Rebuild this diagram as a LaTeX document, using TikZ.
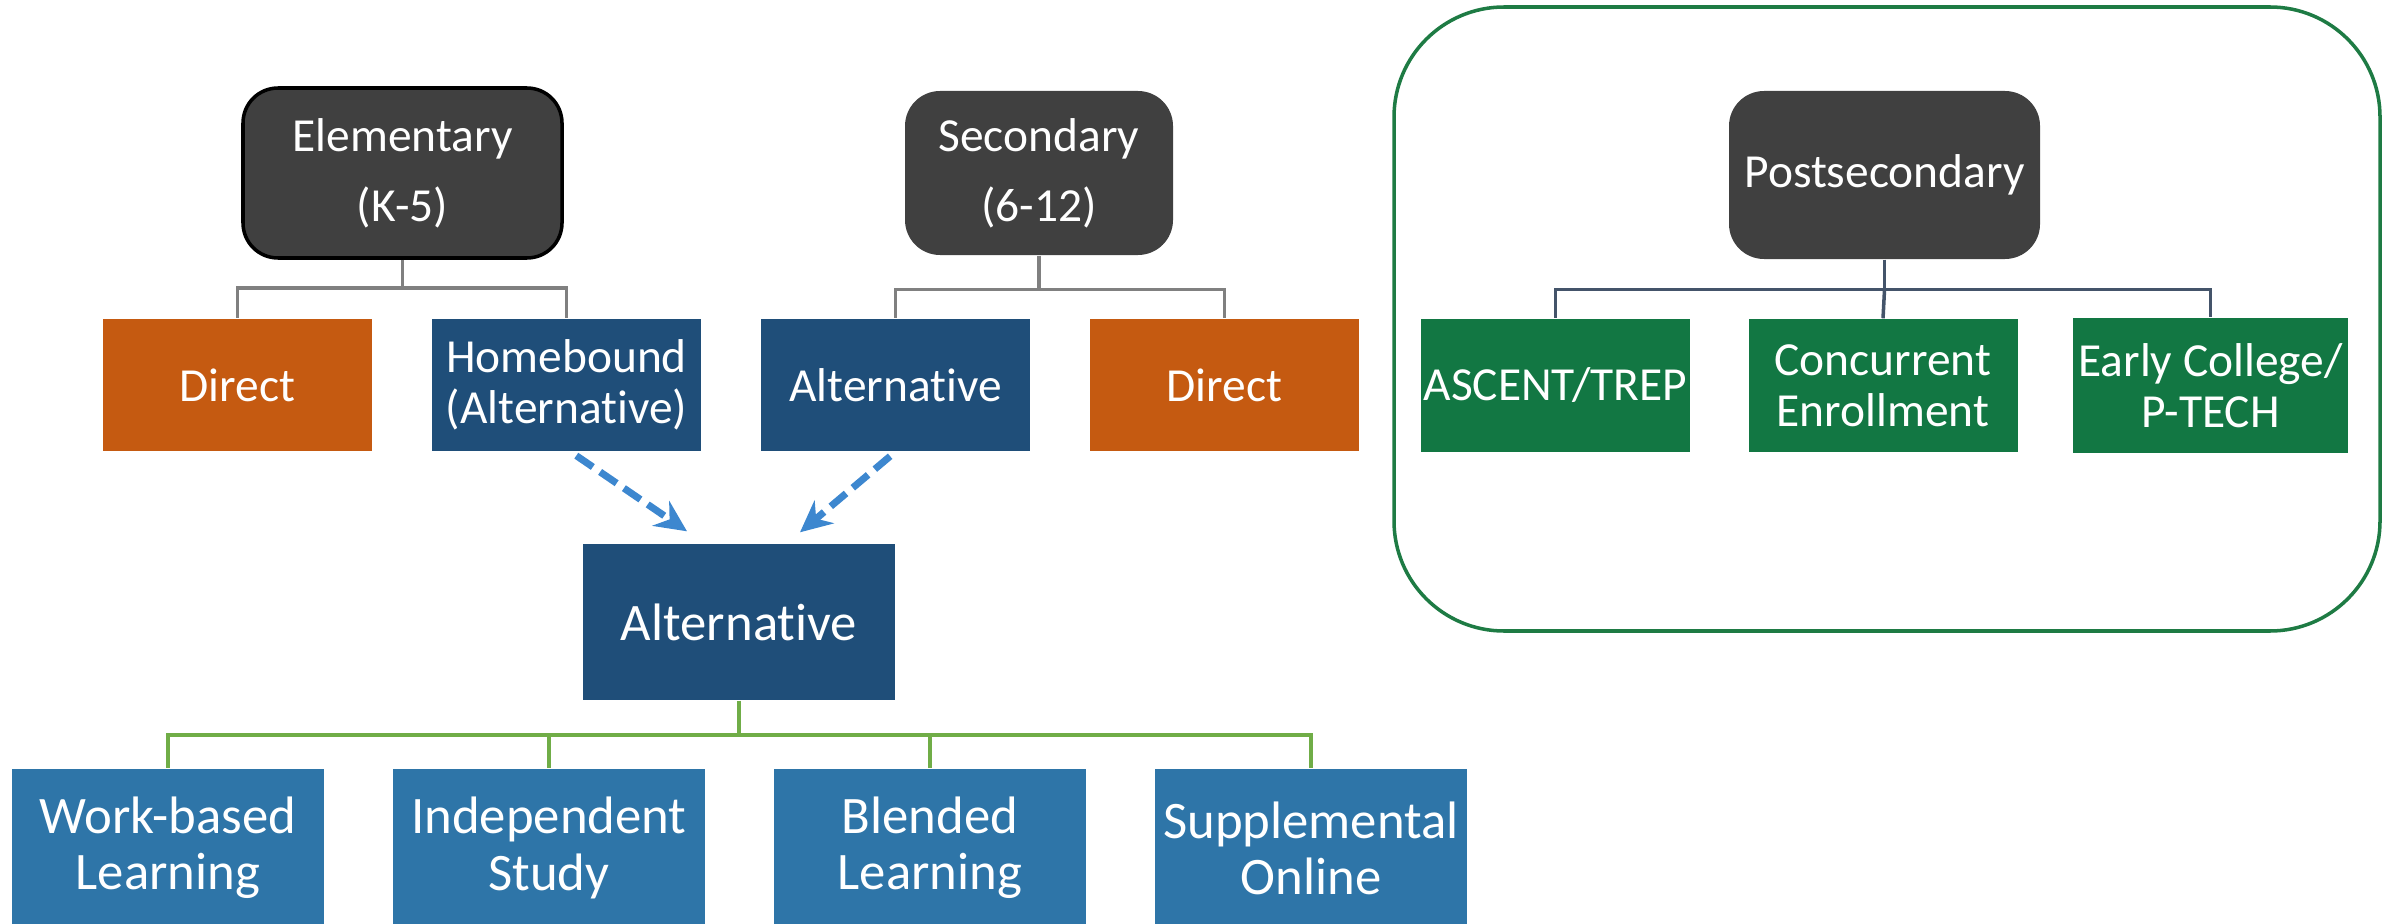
\documentclass[tikz,border=0pt]{standalone}
\usepackage{fontspec}
\setmainfont{Carlito}[Ligatures=NoCommon]
\usetikzlibrary{positioning,arrows.meta}
\definecolor{levelgray}{HTML}{404040}
\definecolor{directorange}{HTML}{C55A11}
\definecolor{altnavy}{HTML}{1F4E79}
\definecolor{optionblue}{HTML}{2E75A8}
\definecolor{postgreen}{HTML}{127743}
\definecolor{framegreen}{HTML}{1E7B44}
\definecolor{arrowblue}{HTML}{3D87CF}
\definecolor{postlink}{HTML}{44546A}
\definecolor{altlink}{HTML}{70AD47}

\begin{document}
\begin{tikzpicture} [node distance=3.29cm,
  level/.style={rectangle, rounded corners=0.35cm, fill=levelgray, text=white, align=center, inner sep=1pt, font=\fontsize{13.5}{20}\selectfont},
  block/.style={rectangle, text=white, align=center, inner sep=0.5pt, minimum width=2.69cm, minimum height=1.32cm, font=\fontsize{13.5}{14.5}\selectfont},
  option/.style={block, fill=optionblue, minimum width=3.12cm, minimum height=1.58cm, font=\fontsize{15}{16}\selectfont},
  graylink/.style={draw=gray, line width=1pt},
  dasharrow/.style={draw=arrowblue, line width=2pt, dash pattern=on 5.7pt off 2.5pt, shorten <=2pt, -{Stealth[length=9pt,width=8.5pt,inset=3pt]}}]
\useasboundingbox (0,0) rectangle (23.82,9.23);
  % Elementary and secondary
  \node [level, draw=black, line width=1pt, minimum width=3.19cm, minimum height=1.70cm] (elem) at (4.025,7.50) {Elementary\\(K-5)};
  \node [level, minimum width=2.68cm, minimum height=1.64cm] (sec) at (10.39,7.50) {Secondary\\(6-12)};
  \node [block, fill=directorange] (elemdirect) at (2.375,5.38) {Direct};
  \node [block, fill=altnavy, right of=elemdirect] (homebound) {Homebound\\(Alternative)};
  \node [block, fill=altnavy, right of=homebound] (secalt) {Alternative};
  \node [block, fill=directorange, right of=secalt] (secdirect) {Direct};
  % Alternative options
  \node [block, fill=altnavy, minimum width=3.12cm, minimum height=1.56cm, font=\fontsize{15}{16}\selectfont] (alt) at (7.39,3.01) {Alternative};
  \node [option] (work) at (1.68,0.75) {Work-based\\Learning};
  \node [option, right of=work, node distance=3.81cm] (indep) {Independent\\Study};
  \node [option, right of=indep, node distance=3.81cm] (blended) {Blended\\Learning};
  \node [option, right of=blended, node distance=3.81cm] (suppl) {Supplemental\\Online};
  % Postsecondary
  \draw [framegreen, line width=1pt, rounded corners=1.1cm] (13.94,2.92) rectangle (23.80,9.16);
  \node [level, minimum width=3.11cm, minimum height=1.68cm] (post) at (18.845,7.48) {Postsecondary};
  \node [block, fill=postgreen, minimum height=1.33cm] (ascent) at (15.555,5.375) {ASCENT/TREP};
  \node [block, fill=postgreen, minimum height=1.33cm, right of=ascent, node distance=3.275cm] (concurrent) {Concurrent\\Enrollment};
  \node [block, fill=postgreen, minimum width=2.75cm, minimum height=1.35cm, right of=concurrent, node distance=3.275cm] (early) {Early College/\\P-TECH};
  % Draw edges
  \draw [graylink] (elem.south) -- ++(0,-0.28) coordinate (elembus);
  \draw [graylink] (elembus) -| (elemdirect.north);
  \draw [graylink] (elembus) -| (homebound.north);
  \draw [graylink] (sec.south) -- ++(0,-0.34) coordinate (secbus);
  \draw [graylink] (secbus) -| (secalt.north);
  \draw [graylink] (secbus) -| (secdirect.north);
  \draw [postlink, line width=1pt] (post.south) -- ++(0,-0.30) coordinate (postbus);
  \draw [postlink, line width=1pt] (postbus) -| (ascent.north);
  \draw [postlink, line width=1pt] (postbus) -- (concurrent.north);
  \draw [postlink, line width=1pt] (postbus) -| (early.north);
  \draw [altlink, line width=1.2pt] (alt.south) -- ++(0,-0.34) coordinate (altbus);
  \draw [altlink, line width=1.2pt] (altbus) -| (work.north);
  \draw [altlink, line width=1.2pt] (altbus) -| (indep.north);
  \draw [altlink, line width=1.2pt] (altbus) -| (blended.north);
  \draw [altlink, line width=1.2pt] (altbus) -| (suppl.north);
  \draw [dasharrow] ([xshift=0.04cm]homebound.south) -- ([xshift=-0.52cm,yshift=0.12cm]alt.north);
  \draw [dasharrow] (secalt.south) -- ([xshift=0.61cm,yshift=0.11cm]alt.north);
\end{tikzpicture}
\end{document}
